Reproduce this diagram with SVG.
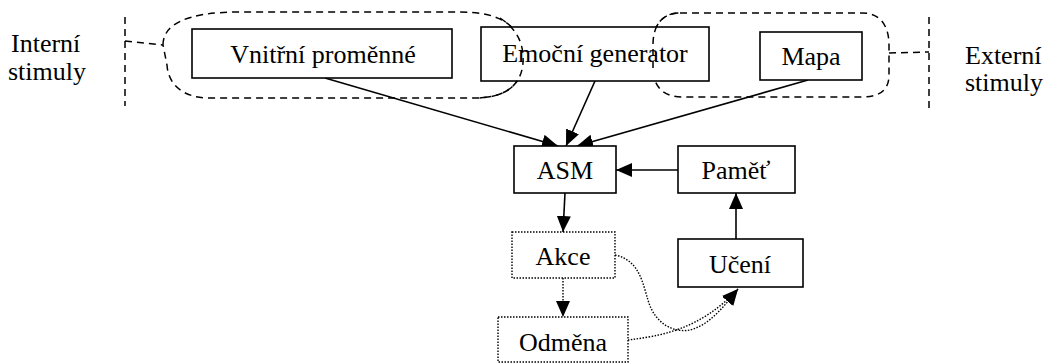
<svg xmlns="http://www.w3.org/2000/svg" width="1049" height="364" viewBox="0 0 1049 364">
<style>
text{font-family:'Liberation Serif','DejaVu Serif',serif;font-size:26px;fill:#000}
.box{fill:#fff;stroke:#000;stroke-width:1.6}
.dbox{fill:#fff;stroke:#000;stroke-width:1.4;stroke-dasharray:1.5 1.5}
.dash{fill:none;stroke:#000;stroke-width:1.5;stroke-dasharray:7 5}
.edge{fill:none;stroke:#000;stroke-width:1.6}
.dot{fill:none;stroke:#000;stroke-width:1.4;stroke-dasharray:1.5 1.5}
</style>
<defs>
<marker id="ah" markerUnits="userSpaceOnUse" markerWidth="18" markerHeight="16" refX="16" refY="7" orient="auto">
<path d="M0,0 L16,7 L0,14 Z" fill="#000"/>
</marker>
</defs>
<g id="groups">
<path class="dash" d="M163,45 C163,25 185,12 240,12 L460,12 C500,12 521,25 523,55 C525,85 505,98 475,98 L210,98 C180,98 168,82 167,65 Z"/>
<path class="dash" d="M680,13 L862,13 C882,13 889,28 889,45 L889,75 C889,90 880,97 862,97 L682,97 C662,97 653,85 653,68 L653,45 C653,25 662,13 680,13 Z"/>
<line class="dash" x1="125" y1="17" x2="125" y2="106"/>
<path class="dash" d="M125,41 L163,45"/>
<line class="dash" x1="929" y1="17" x2="929" y2="110"/>
<path class="dash" d="M889,53 L929,52"/>
</g>
<g id="labels">
<text x="11" y="52">Interní</text>
<text x="8" y="80">stimuly</text>
<text x="965" y="64">Externí</text>
<text x="965" y="91">stimuly</text>
</g>
<g id="connectors">
<line class="edge" x1="325" y1="78" x2="558" y2="146" marker-end="url(#ah)"/>
<line class="edge" x1="595" y1="81" x2="566" y2="146" marker-end="url(#ah)"/>
<line class="edge" x1="808" y1="80" x2="577" y2="146" marker-end="url(#ah)"/>
<line class="edge" x1="678" y1="170" x2="616" y2="170" marker-end="url(#ah)"/>
<line class="edge" x1="736" y1="239" x2="736" y2="193" marker-end="url(#ah)"/>
<line class="edge" x1="565" y1="193" x2="563" y2="232" marker-end="url(#ah)"/>
<line class="dot" x1="563" y1="278" x2="563" y2="317" marker-end="url(#ah)"/>
<path class="dot" d="M615,255 C640,260 643,285 648,300 C655,325 675,333 690,330 C710,325 725,305 738,289" marker-end="url(#ah)"/>
<path class="dot" d="M628,340 C660,336 700,330 738,289" marker-end="url(#ah)"/>
</g>
<g id="vnitrni"><rect class="box" x="192" y="29" width="260" height="49"/><text x="323" y="63" text-anchor="middle">Vnitřní proměnné</text></g>
<g id="emocni"><rect class="box" x="481" y="27" width="228" height="54"/><text x="595" y="62" text-anchor="middle">Emoční generator</text></g>
<g id="mapa"><rect class="box" x="760" y="32" width="102" height="48"/><text x="811" y="65" text-anchor="middle">Mapa</text></g>
<g id="asm"><rect class="box" x="514" y="146" width="102" height="47"/><text x="565" y="179" text-anchor="middle">ASM</text></g>
<g id="pamet"><rect class="box" x="678" y="146" width="117" height="47"/><text x="736" y="179" text-anchor="middle">Paměť</text></g>
<g id="uceni"><rect class="box" x="678" y="239" width="125" height="48"/><text x="740" y="273" text-anchor="middle">Učení</text></g>
<g id="akce"><rect class="dbox" x="512" y="232" width="103" height="46"/><text x="563" y="265" text-anchor="middle">Akce</text></g>
<g id="odmena"><rect class="dbox" x="498" y="317" width="130" height="45"/><text x="563" y="351" text-anchor="middle">Odměna</text></g>
<g id="overlap">
<path class="dash" d="M500,18 C515,28 522,40 523,55 C525,85 505,98 475,98"/>
<path class="dash" d="M653,68 L653,45 C653,25 662,13 680,13"/>
</g>
</svg>
